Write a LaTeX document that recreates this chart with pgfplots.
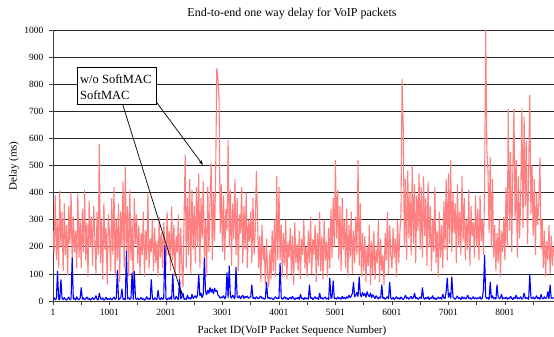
\documentclass[border=0pt]{standalone}
\usepackage{fontspec}
\setmainfont{Liberation Serif}
\usepackage{pgfplots}
\pgfplotsset{compat=1.18}
\usepackage{pgfplotstable}
\usetikzlibrary{arrows.meta}
\definecolor{salmon}{HTML}{FF8080}
\definecolor{vblue}{HTML}{0000FF}

% w/o SoftMAC, one value every 20 packets (packet = 20*i+1)
\pgfplotstableread[row sep=\\]{
y\\
260\\180\\390\\150\\300\\120\\405\\200\\330\\110\\360\\170\\280\\95\\350\\210\\400\\140\\310\\180\\260\\120\\395\\160\\300\\
120\\340\\180\\410\\150\\290\\90\\370\\200\\310\\130\\350\\240\\100\\330\\170\\580\\140\\300\\80\\360\\190\\270\\60\\320\\
250\\110\\380\\170\\420\\90\\300\\150\\360\\70\\330\\200\\440\\120\\495\\180\\350\\90\\410\\150\\300\\60\\380\\210\\320\\
140\\280\\100\\250\\170\\330\\90\\260\\150\\400\\120\\230\\180\\300\\110\\270\\140\\220\\90\\310\\160\\250\\120\\290\\200\\
130\\330\\170\\260\\110\\350\\150\\280\\90\\240\\180\\320\\60\\270\\140\\50\\300\\540\\120\\380\\170\\450\\100\\410\\190\\
350\\140\\420\\200\\470\\120\\380\\230\\440\\160\\300\\90\\420\\180\\360\\510\\150\\400\\220\\480\\860\\820\\740\\250\\430\\
180\\390\\150\\340\\260\\595\\200\\410\\130\\360\\230\\450\\170\\380\\110\\320\\250\\420\\140\\350\\190\\400\\120\\300\\220\\
330\\140\\380\\170\\260\\480\\310\\120\\240\\70\\280\\150\\200\\60\\230\\100\\50\\190\\80\\260\\110\\300\\90\\460\\150\\
420\\150\\280\\90\\250\\130\\300\\80\\220\\160\\270\\100\\240\\60\\290\\140\\210\\110\\260\\80\\230\\170\\300\\120\\200\\
90\\260\\140\\310\\100\\230\\170\\280\\70\\250\\130\\330\\110\\240\\80\\300\\150\\220\\90\\270\\120\\340\\160\\380\\200\\
520\\230\\410\\150\\350\\110\\380\\190\\300\\120\\340\\90\\280\\160\\330\\100\\260\\140\\310\\170\\520\\130\\360\\90\\250\\
110\\240\\70\\200\\130\\280\\60\\220\\100\\260\\80\\190\\140\\300\\70\\230\\110\\170\\60\\250\\150\\330\\100\\280\\170\\
120\\270\\160\\230\\90\\300\\140\\250\\330\\820\\640\\200\\450\\150\\480\\230\\400\\170\\500\\210\\430\\140\\390\\260\\470\\
190\\420\\160\\460\\240\\380\\130\\440\\200\\350\\110\\300\\180\\420\\140\\260\\90\\330\\160\\280\\120\\370\\190\\450\\150\\
470\\210\\520\\180\\400\\250\\360\\140\\430\\200\\330\\170\\460\\220\\380\\150\\300\\190\\410\\130\\350\\240\\290\\160\\390\\
200\\340\\150\\390\\220\\300\\170\\410\\1000\\560\\480\\250\\530\\200\\450\\160\\280\\110\\250\\140\\300\\90\\260\\180\\310\\
150\\420\\200\\710\\260\\550\\180\\480\\710\\300\\520\\160\\460\\230\\390\\710\\270\\680\\350\\590\\210\\470\\760\\320\\500\\
240\\450\\170\\400\\280\\360\\530\\190\\300\\120\\260\\90\\220\\150\\280\\100\\240\\130\\200\\
}\salmondata

% SoftMAC, one value every 20 packets (packet = 20*i+1)
\pgfplotstableread[row sep=\\]{
y\\
6\\12\\4\\9\\110\\7\\4\\80\\10\\5\\13\\6\\3\\9\\15\\4\\8\\160\\6\\11\\3\\16\\7\\5\\10\\
50\\6\\12\\4\\9\\15\\6\\10\\3\\8\\13\\5\\9\\20\\6\\4\\30\\9\\6\\12\\3\\7\\14\\5\\9\\
6\\11\\4\\9\\15\\6\\10\\115\\5\\8\\12\\45\\6\\9\\4\\185\\7\\12\\6\\9\\105\\5\\110\\10\\6\\
11\\4\\8\\13\\6\\9\\3\\7\\16\\6\\10\\5\\80\\9\\4\\12\\7\\6\\40\\9\\5\\13\\6\\10\\205\\
8\\4\\11\\6\\15\\5\\100\\9\\6\\18\\10\\4\\80\\7\\13\\30\\6\\9\\5\\22\\8\\12\\6\\25\\9\\
14\\20\\10\\25\\100\\18\\30\\12\\24\\160\\35\\22\\40\\28\\50\\32\\44\\26\\48\\35\\40\\22\\18\\10\\15\\
12\\20\\8\\16\\105\\12\\130\\18\\10\\22\\14\\8\\125\\16\\11\\20\\8\\15\\22\\9\\17\\12\\19\\10\\14\\
15\\60\\9\\13\\7\\16\\11\\8\\14\\18\\9\\12\\6\\11\\70\\10\\14\\7\\12\\9\\5\\11\\16\\8\\12\\
8\\140\\13\\6\\10\\16\\8\\12\\5\\10\\14\\7\\18\\9\\5\\12\\8\\14\\6\\25\\9\\11\\5\\13\\7\\
11\\6\\60\\9\\14\\5\\10\\16\\8\\12\\5\\30\\9\\13\\6\\11\\15\\7\\10\\5\\85\\9\\14\\75\\8\\
11\\6\\15\\9\\12\\6\\18\\9\\13\\7\\16\\10\\22\\12\\18\\28\\70\\15\\22\\32\\16\\90\\24\\14\\32\\
20\\28\\13\\35\\22\\15\\30\\11\\24\\16\\9\\20\\13\\7\\15\\10\\60\\9\\13\\6\\11\\16\\8\\70\\10\\
7\\13\\5\\10\\16\\8\\12\\6\\15\\9\\5\\12\\22\\9\\14\\6\\11\\18\\7\\12\\30\\9\\13\\6\\10\\
15\\8\\50\\11\\6\\13\\9\\16\\5\\12\\9\\20\\7\\12\\5\\10\\15\\8\\13\\6\\25\\11\\9\\35\\85\\
13\\30\\9\\90\\15\\10\\6\\12\\19\\8\\12\\5\\16\\9\\14\\7\\11\\22\\9\\13\\6\\10\\16\\8\\12\\
7\\12\\9\\16\\6\\11\\40\\170\\15\\9\\13\\5\\70\\10\\20\\8\\12\\6\\60\\14\\9\\11\\25\\7\\12\\
9\\15\\6\\12\\8\\18\\10\\5\\14\\9\\22\\7\\12\\9\\16\\6\\11\\30\\8\\13\\10\\6\\100\\12\\9\\
15\\7\\11\\20\\9\\13\\6\\25\\10\\8\\16\\9\\12\\35\\7\\60\\11\\9\\13\\
}\bluedata

\begin{document}
\begin{tikzpicture}
\useasboundingbox (0,0) rectangle (554pt,337pt);
\begin{axis}[
  at={(53pt,36pt)}, anchor=south west,
  scale only axis, width=501pt, height=271pt,
  xmin=1, xmax=8870, ymin=0, ymax=1000,
  axis x line*=bottom, axis y line*=left,
  axis line style={black!75, line width=0.7pt},
  xtick={1,1001,...,8001},
  xticklabels={1,1001,2001,3001,4001,5001,6001,7001,8001},
  minor xtick={501,1501,...,8501},
  ytick={0,100,...,1000},
  tick align=outside,
  major tick length=4pt, minor tick length=4pt,
  tick style={black!75, line width=0.6pt},
  ymajorgrids,
  major grid style={black!85, line width=0.6pt},
  /pgf/number format/assume math mode=true,
  /pgf/number format/set thousands separator={},
  ticklabel style={font=\fontsize{9.5}{10}\selectfont},
  xticklabel style={yshift=-1pt},
  yticklabel style={xshift=-2pt},
  clip=true,
]
\addplot[salmon, line width=1.1pt, line join=bevel] table[x expr=\coordindex*20+1, y=y] {\salmondata};
\addplot[vblue, line width=1.1pt, line join=bevel] table[x expr=\coordindex*20+1, y=y] {\bluedata};
\end{axis}
% title and labels
\node[font=\fontsize{12}{13}\selectfont] at (292pt,323pt) {End-to-end one way delay for VoIP packets};
\node[font=\fontsize{11}{12}\selectfont] at (292pt,6pt) {Packet ID(VoIP Packet Sequence Number)};
\node[font=\fontsize{11}{12}\selectfont, rotate=90] at (14pt,171pt) {Delay (ms)};
% callout box
\draw[black, line width=0.7pt, -{Stealth[length=5pt,width=3pt]}] (143pt,253pt) -- (203pt,172pt);
\draw[black, line width=0.7pt, -{Stealth[length=5pt,width=3pt]}] (121pt,238pt) -- (182pt,42pt);
\draw[black, fill=white, line width=0.8pt] (77.7pt,233pt) rectangle (156.7pt,270pt);
\node[anchor=west, font=\fontsize{12.5}{13}\selectfont, inner sep=0pt] at (80pt,258pt) {w/o SoftMAC};
\node[anchor=west, font=\fontsize{12.5}{13}\selectfont, inner sep=0pt] at (80pt,242pt) {SoftMAC};
\end{tikzpicture}
\end{document}
